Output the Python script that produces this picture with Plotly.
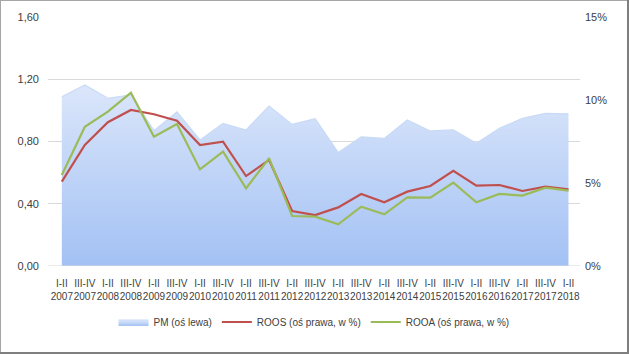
import plotly.graph_objects as go

periods = ["I-II", "III-IV"]
years = list(range(2007, 2018))
categories = [f"{p}<br>{y}" for y in years for p in periods] + ["I-II<br>2018"]

pm = [1.088, 1.163, 1.078, 1.10, 0.87, 0.99, 0.81, 0.917, 0.874, 1.028, 0.91, 0.947,
      0.73, 0.83, 0.82, 0.938, 0.868, 0.874, 0.789, 0.885, 0.949, 0.981, 0.977]
roos = [5.08, 7.29, 8.66, 9.40, 9.14, 8.75, 7.29, 7.49, 5.42, 6.39, 3.31, 3.07,
        3.53, 4.34, 3.84, 4.48, 4.82, 5.74, 4.84, 4.88, 4.52, 4.78, 4.62]
rooa = [5.48, 8.39, 9.30, 10.44, 7.79, 8.55, 5.82, 6.89, 4.68, 6.49, 3.01, 2.97,
        2.51, 3.57, 3.11, 4.14, 4.12, 5.02, 3.84, 4.34, 4.24, 4.72, 4.54]

left_ticks = [0, 0.4, 0.8, 1.2, 1.6]
left_labels = ["0,00", "0,40", "0,80", "1,20", "1,60"]
right_ticks = [0, 5, 10, 15]
right_labels = ["0%", "5%", "10%", "15%"]

W, H = 629, 354
ML, MR, MT, MB = 48, 49, 17, 88
PW, PH = W - ML - MR, H - MT - MB

fam = "Liberation Sans Narrow, Arial Narrow, Liberation Sans, sans-serif"
font = dict(family=fam, size=11, color="#404040")
xfont = dict(family=fam, size=10, color="#404040")
lfont = dict(family=fam, size=10, color="#404040")

fig = go.Figure()
fig.add_trace(go.Scatter(
    x=categories, y=pm, name="PM (oś lewa)", mode="lines",
    line=dict(color="#c9daf6", width=1.2), fill="tozeroy",
    fillgradient=dict(type="vertical", start=0, stop=1.25,
                      colorscale=[[0, "#a3c1f4"], [1, "#dfe9fb"]]),
))
fig.add_trace(go.Scatter(
    x=categories, y=roos, name="ROOS (oś prawa, w %)", mode="lines",
    line=dict(color="#c0504d", width=2.2), yaxis="y2",
))
fig.add_trace(go.Scatter(
    x=categories, y=rooa, name="ROOA (oś prawa, w %)", mode="lines",
    line=dict(color="#9bbb59", width=2.2), yaxis="y2",
))

def px_to_paper_x(px):
    return (px - ML) / PW

def px_to_paper_y(py):
    return (H - MB - py) / PH

shapes = []
for (x0, x1, y0, y1, c) in [
    (0, 1, 0, H, "#a6a6a6"),
    (0, W, 0, 1, "#a6a6a6"),
    (W - 2, W, 0, H, "#7f7f7f"),
    (0, W, H - 2, H, "#7f7f7f"),
]:
    shapes.append(dict(type="rect", xref="paper", yref="paper",
                       x0=px_to_paper_x(x0), x1=px_to_paper_x(x1),
                       y0=px_to_paper_y(y1), y1=px_to_paper_y(y0),
                       fillcolor=c, line=dict(width=0), layer="above"))

fig.update_layout(
    width=W, height=H,
    margin=dict(l=ML, r=MR, t=MT, b=MB),
    paper_bgcolor="white", plot_bgcolor="white",
    font=font,
    showlegend=True,
    legend=dict(orientation="h", x=0.50, xanchor="center", y=px_to_paper_y(322), yanchor="middle",
                font=lfont, itemwidth=30, tracegroupgap=0),
    xaxis=dict(type="category", range=[-0.6, 22.5], showgrid=False, showline=False,
               ticks="", tickfont=xfont, tickangle=0, zeroline=False, ticklabelstandoff=10),
    yaxis=dict(range=[0, 1.6], tickvals=left_ticks, ticktext=left_labels, showgrid=True,
               gridcolor="#d9d9d9", gridwidth=1, zeroline=False, showline=False,
               ticks="", tickfont=font, ticklabelstandoff=8),
    yaxis2=dict(range=[0, 15], tickvals=right_ticks, ticktext=right_labels, overlaying="y",
                side="right", showgrid=False, zeroline=False, showline=False,
                ticks="", tickfont=font, ticklabelstandoff=4),
    shapes=shapes,
)
fig.add_shape(type="line", xref="paper", yref="y", x0=0, x1=1, y0=0, y1=0,
              line=dict(color="#d9d9d9", width=1))

fig.write_html("out.html")
